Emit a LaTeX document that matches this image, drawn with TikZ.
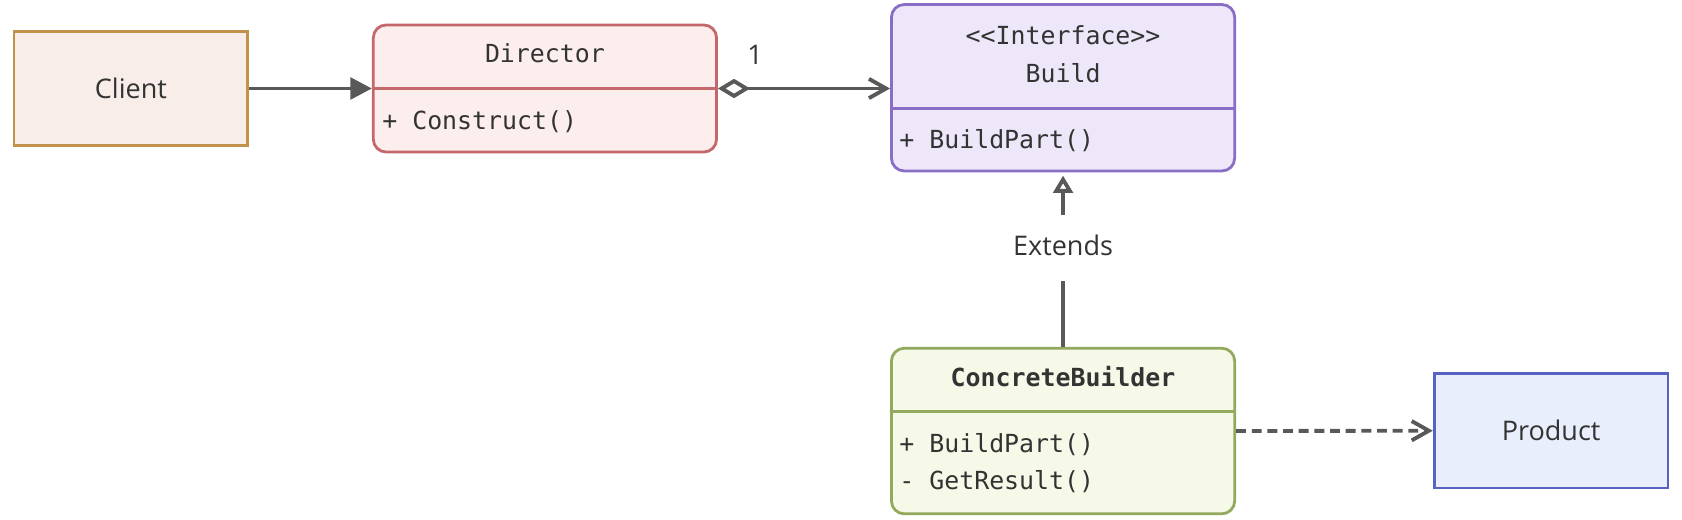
\documentclass[tikz,border=0pt]{standalone}
\usepackage{fontspec}
\setmainfont{Open Sans}
\setmonofont{DejaVu Sans Mono}
\usetikzlibrary{arrows.meta}
\definecolor{arrowgray}{HTML}{595959}
\definecolor{txt}{HTML}{333333}
\definecolor{clientfill}{HTML}{F8EDE8}
\definecolor{clientline}{HTML}{C2924A}
\definecolor{dirfill}{HTML}{FDEEEE}
\definecolor{dirline}{HTML}{C4686C}
\definecolor{bldfill}{HTML}{EEE7F9}
\definecolor{bldline}{HTML}{8A6DC4}
\definecolor{cbfill}{HTML}{F6F9E8}
\definecolor{cbline}{HTML}{92A95E}
\definecolor{prodfill}{HTML}{E8EEFB}
\definecolor{prodline}{HTML}{5763C0}
\begin{document}
\begin{tikzpicture}[
    x=0.5pt, y=-0.5pt,
    obj/.style={draw, line width=1.3pt, inner sep=0pt, minimum width=109pt, minimum height=53.5pt,
        text=txt, font=\fontsize{12.6}{15}\selectfont, text height=9pt, text depth=0pt},
    cls/.style={draw, line width=1.3pt, rounded corners=6pt, inner sep=0pt, minimum width=160pt},
    member/.style={inner sep=0pt, text=txt, font=\ttfamily\fontsize{11.6}{14}\selectfont,
        text height=8.5pt, text depth=0pt},
    lbl/.style={inner sep=0pt, text=txt, font=\fontsize{12.6}{15}\selectfont, text height=9pt, text depth=0pt},
    conn/.style={draw=arrowgray, line width=1.8pt},
    >=stealth
]
\useasboundingbox (0,0) rectangle (1568,484.75);

\node[obj, fill=clientfill, draw=clientline] (cl) at (122,82.5) {Client};
\node[cls, fill=dirfill, draw=dirline, minimum height=59.25pt] (dir) at (508,82.5) {};
\node[cls, fill=bldfill, draw=bldline, minimum height=77.6pt] (bld) at (991,81.8) {};
\node[cls, fill=cbfill, draw=cbline, minimum height=77.2pt] (cb) at (991,401.8) {};
\node[obj, fill=prodfill, draw=prodline] (prod) at (1446,401.5) {Product};

\draw[dirline, line width=1.3pt] (dir.west |- 0,82.3) -- (dir.east |- 0,82.3);
\draw[bldline, line width=1.3pt] (bld.west |- 0,101) -- (bld.east |- 0,101);
\draw[cbline, line width=1.3pt] (cb.west |- 0,383.8) -- (cb.east |- 0,383.8);

\node[member] (dirName) at (508,49.7) {Director};
\node[member, anchor=west] (dirOp) at (356,112) {+ Construct()};
\node[member] (bldStereo) at (991,32.6) {<<Interface>>};
\node[member] (bldName) at (991,68.8) {Build};
\node[member, anchor=west] (bldOp) at (838,129.6) {+ BuildPart()};
\node[member, font=\ttfamily\bfseries\fontsize{11.6}{14}\selectfont] (cbName) at (991,351.5) {ConcreteBuilder};
\node[member, anchor=west] (cbOp1) at (838,413) {+ BuildPart()};
\node[member, anchor=west] (cbOp2) at (838,447.5) {- GetResult()};

\node[lbl] (mult) at (704,51.3) {1};
\node[lbl, inner ysep=9.25pt, text depth=2.5pt, text height=9.5pt] (ext) at (991,231.5) {Extends};

\draw[conn, -{Triangle[length=10pt,width=10pt]}] (cl.east) -- (cl.east -| dir.west);
\draw[conn, {Diamond[open,length=15pt,width=9pt]}-{Straight Barb[length=8pt,width=9pt]}] (dir.east) -- (dir.east -| bld.west);
\draw[conn] (cb.north) -- (ext.south);
\draw[conn, -{Triangle[open,length=8pt,width=9pt]}, shorten >=1.5pt] (ext.north) -- (bld.south);
\draw[conn, dash pattern=on 4.6pt off 2.7pt, -{Straight Barb[length=8pt,width=9pt]}] (cb.east) -- (prod.west);
\end{tikzpicture}
\end{document}
